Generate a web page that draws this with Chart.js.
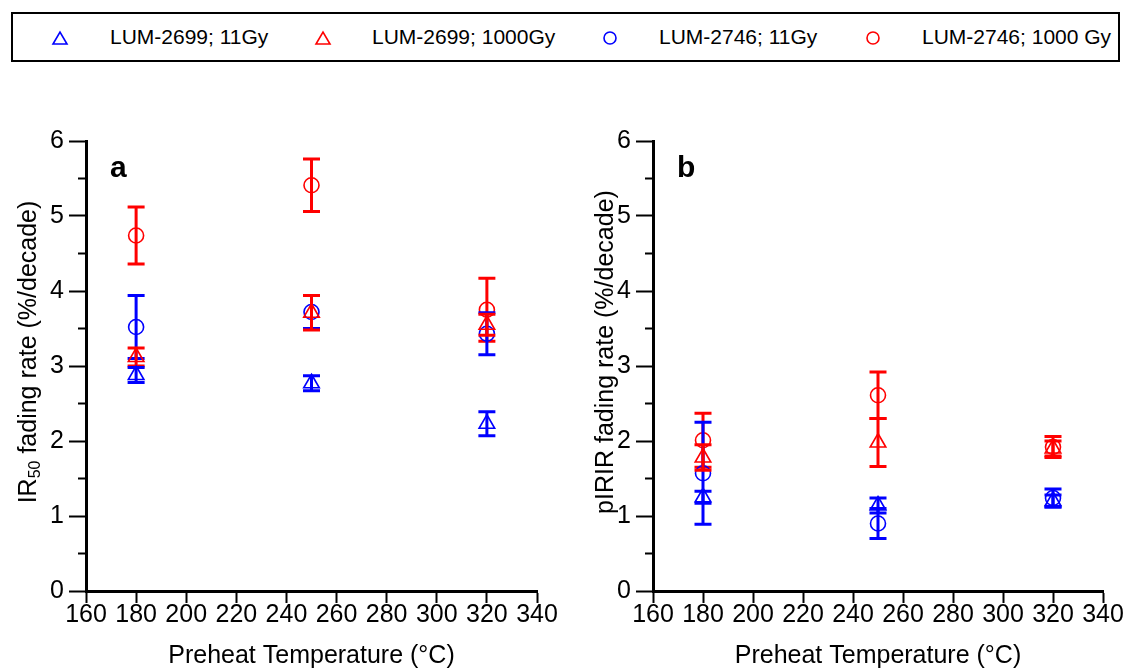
<!DOCTYPE html>
<html>
<head>
<meta charset="utf-8">
<script src="https://cdn.jsdelivr.net/npm/chart.js@4.4.0/dist/chart.umd.min.js"></script>
<style>
  body { margin: 0; background: #fff; width: 1127px; height: 669px; position: relative; overflow: hidden;
         font-family: 'Liberation Sans', Arial, sans-serif; }
  #legend { position: absolute; left: 11px; top: 12px; width: 1105px; height: 46px; border: 2px solid #000; }
  .lab { position: absolute; top: 12px; height: 50px; line-height: 50px; font-size: 21px; color: #000; white-space: nowrap; }
  #sym { position: absolute; left: 0; top: 0; }
  canvas { position: absolute; top: 110px; }
</style>
</head>
<body>
<div id="legend"></div>
<svg id="sym" width="1127" height="70">
  <polygon points="53,44 67,44 60,32" fill="none" stroke="#0000ff" stroke-width="1.6"/>
  <polygon points="316,44 330,44 323,32" fill="none" stroke="#ff0000" stroke-width="1.6"/>
  <circle cx="610" cy="38" r="6" fill="none" stroke="#0000ff" stroke-width="1.6"/>
  <circle cx="873" cy="38" r="6" fill="none" stroke="#ff0000" stroke-width="1.6"/>
</svg>
<span class="lab" style="left:110px">LUM-2699; 11Gy</span>
<span class="lab" style="left:372px">LUM-2699; 1000Gy</span>
<span class="lab" style="left:659px">LUM-2746; 11Gy</span>
<span class="lab" style="left:922px">LUM-2746; 1000 Gy</span>

<canvas id="chartA" width="563" height="559" style="left:0"></canvas>
<canvas id="chartB" width="564" height="559" style="left:563px"></canvas>

<script>
// Preheat temperatures (x)
const temps = [180, 250, 320];

// Panel a: IR50 fading rate (%/decade)
const irBlueTri  = [2.88, 2.77, 2.23];
const irBlueTriE = [0.10, 0.10, 0.16];
const irRedTri   = [3.12, 3.71, 3.55];
const irRedTriE  = [0.12, 0.23, 0.14];
const irBlueCir  = [3.52, 3.72, 3.43];
const irBlueCirE = [0.42, 0.22, 0.28];
const irRedCir   = [4.74, 5.41, 3.75];
const irRedCirE  = [0.38, 0.35, 0.42];

// Panel b: pIRIR fading rate (%/decade)
const pBlueTri  = [1.25, 1.14, 1.20];
const pBlueTriE = [0.08, 0.10, 0.08];
const pRedTri   = [1.78, 1.98, 1.90];
const pRedTriE  = [0.17, 0.32, 0.10];
const pBlueCir  = [1.57, 0.90, 1.24];
const pBlueCirE = [0.68, 0.20, 0.12];
const pRedCir   = [2.01, 2.61, 1.92];
const pRedCirE  = [0.36, 0.31, 0.14];

const xTicks = [160, 180, 200, 220, 240, 260, 280, 300, 320, 340];
const yTicks = [0, 1, 2, 3, 4, 5, 6];

const BLUE = '#0000ff', RED = '#ff0000';
const FONT = "'Liberation Sans', Arial, sans-serif";

function series(label, vals, errs, color, style) {
  return {
    label: label,
    data: temps.map((t, i) => ({ x: t, y: vals[i], err: errs[i] })),
    borderColor: color,
    backgroundColor: 'rgba(0,0,0,0)',
    pointStyle: style,
    pointRadius: style === 'triangle' ? 9 : 7.5,
    pointBorderWidth: 1.6,
    showLine: false
  };
}

// vertical error bars with caps, drawn after each dataset
const errorBars = {
  id: 'errorBars',
  afterDatasetDraw(chart, args) {
    const ds = chart.data.datasets[args.index];
    const xs = chart.scales.x, ys = chart.scales.y;
    const ctx = chart.ctx;
    ctx.save();
    ctx.strokeStyle = ds.borderColor;
    ctx.lineWidth = 3;
    ds.data.forEach(p => {
      const px = xs.getPixelForValue(p.x);
      const top = ys.getPixelForValue(p.y + p.err);
      const bot = ys.getPixelForValue(p.y - p.err);
      ctx.beginPath();
      ctx.moveTo(px, top); ctx.lineTo(px, bot);
      ctx.moveTo(px - 8.5, top); ctx.lineTo(px + 8.5, top);
      ctx.moveTo(px - 8.5, bot); ctx.lineTo(px + 8.5, bot);
      ctx.stroke();
    });
    ctx.restore();
  }
};

// rotated y title (with optional subscript) and panel letter
const decor = {
  id: 'decor',
  afterDraw(chart, args, opts) {
    const ctx = chart.ctx;
    const area = chart.chartArea;
    ctx.save();
    ctx.fillStyle = '#000';
    ctx.font = 'bold 30px ' + FONT;
    ctx.textBaseline = 'alphabetic';
    ctx.textAlign = 'left';
    ctx.fillText(opts.letter, area.left + opts.letterDx, area.top + 36);

    const parts = opts.title; // [text, isSub]
    const big = '25px ' + FONT, small = '16px ' + FONT;
    let total = 0;
    parts.forEach(p => { ctx.font = p[1] ? small : big; total += ctx.measureText(p[0]).width; });
    ctx.translate(opts.titleX, (area.top + area.bottom) / 2 - 14);
    ctx.rotate(-Math.PI / 2);
    let x = -total / 2;
    parts.forEach(p => {
      ctx.font = p[1] ? small : big;
      ctx.fillText(p[0], x, p[1] ? 13 : 9);
      x += ctx.measureText(p[0]).width;
    });
    ctx.restore();
  }
};

function makeChart(id, sets, yWidth, letter, letterDx, title, titleX) {
  return new Chart(document.getElementById(id), {
    type: 'scatter',
    data: { datasets: sets },
    plugins: [errorBars, decor],
    options: {
      responsive: false,
      animation: false,
      layout: { padding: { top: 31, right: id === 'chartA' ? 26 : 24, left: 0, bottom: 0 } },
      plugins: {
        legend: { display: false },
        tooltip: { enabled: false },
        decor: { letter: letter, letterDx: letterDx, title: title, titleX: titleX }
      },
      scales: {
        x: {
          type: 'linear', min: 160, max: 340,
          afterFit: s => { s.height = 78; },
          afterBuildTicks: s => { s.ticks = xTicks.map(v => ({ value: v })); },
          ticks: { color: '#000', font: { family: FONT, size: 25 }, padding: -3, maxRotation: 0, autoSkip: false },
          grid: { drawOnChartArea: false, drawTicks: true, tickLength: 12, tickWidth: 2, tickColor: '#000' },
          border: { color: '#000', width: 3 },
          title: { display: true, text: 'Preheat Temperature (°C)', color: '#000',
                   font: { family: FONT, size: 25, lineHeight: 1 }, padding: { top: 0, bottom: 0 } }
        },
        y: {
          type: 'linear', min: 0, max: 6,
          afterFit: s => { s.width = yWidth; },
          ticks: { stepSize: 0.5, color: '#000', font: { family: FONT, size: 25 }, padding: 5, autoSkip: false,
                   callback: v => (yTicks.includes(v) ? String(v) : '') },
          grid: { drawOnChartArea: false, drawTicks: true, tickLength: 17, tickWidth: 2, tickColor: '#000',
                  tickBorderDash: c => (c.tick && c.tick.value % 1 !== 0 ? [0, 9, 9, 40] : []) },
          border: { color: '#000', width: 3 }
        }
      }
    }
  });
}

makeChart('chartA', [
  series('LUM-2699; 11Gy', irBlueTri, irBlueTriE, BLUE, 'triangle'),
  series('LUM-2699; 1000Gy', irRedTri, irRedTriE, RED, 'triangle'),
  series('LUM-2746; 11Gy', irBlueCir, irBlueCirE, BLUE, 'circle'),
  series('LUM-2746; 1000 Gy', irRedCir, irRedCirE, RED, 'circle')
], 86, 'a', 24, [['IR', false], ['50', true], [' fading rate (%/decade)', false]], 27);

makeChart('chartB', [
  series('LUM-2699; 11Gy', pBlueTri, pBlueTriE, BLUE, 'triangle'),
  series('LUM-2699; 1000Gy', pRedTri, pRedTriE, RED, 'triangle'),
  series('LUM-2746; 11Gy', pBlueCir, pBlueCirE, BLUE, 'circle'),
  series('LUM-2746; 1000 Gy', pRedCir, pRedCirE, RED, 'circle')
], 90, 'b', 24, [['pIRIR fading rate (%/decade)', false]], 41);
</script>
</body>
</html>
